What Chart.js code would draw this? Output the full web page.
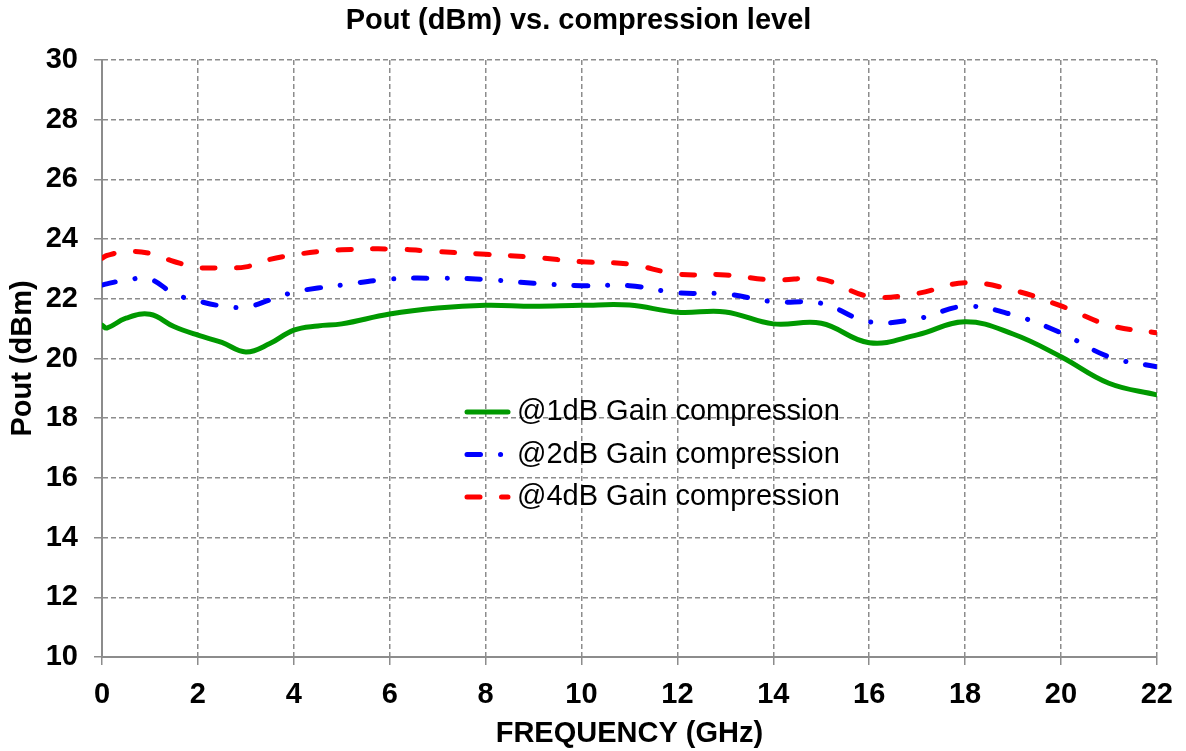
<!DOCTYPE html>
<html>
<head>
<meta charset="utf-8">
<script src="https://cdn.jsdelivr.net/npm/chart.js@4/dist/chart.umd.min.js"></script>
<style>
  html, body { margin: 0; padding: 0; background: #fff; }
  #wrap { width: 1186px; height: 751px; }
</style>
</head>
<body>
<div id="wrap"><canvas id="pout-chart" width="1186" height="751"></canvas></div>
<script>
const FREQ_GHZ = [0, 0.1, 0.5, 1, 1.5, 2, 2.5, 3, 3.5, 4, 4.5, 5, 6, 7, 8, 9, 10, 11, 12, 13, 14, 15, 16, 17, 18, 19, 20, 21, 22];
const POUT_1DB = [21.12, 21.02, 21.35, 21.48, 21.07, 20.78, 20.54, 20.22, 20.50, 20.95, 21.09, 21.16, 21.49, 21.69, 21.78, 21.75, 21.78, 21.79, 21.55, 21.56, 21.16, 21.18, 20.53, 20.79, 21.23, 20.82, 20.06, 19.17, 18.78];
const POUT_2DB = [22.46, 22.50, 22.63, 22.66, 22.17, 21.93, 21.76, 21.72, 21.96, 22.22, 22.36, 22.46, 22.66, 22.69, 22.65, 22.52, 22.44, 22.44, 22.20, 22.16, 21.90, 21.85, 21.23, 21.33, 21.75, 21.46, 20.86, 20.06, 19.72];
const POUT_4DB = [23.36, 23.45, 23.58, 23.52, 23.25, 23.05, 23.04, 23.07, 23.32, 23.47, 23.58, 23.64, 23.67, 23.58, 23.49, 23.39, 23.24, 23.16, 22.83, 22.80, 22.63, 22.66, 22.08, 22.18, 22.54, 22.29, 21.76, 21.12, 20.86];
const SERIES_LABELS = ['@1dB Gain compression', '@2dB Gain compression', '@4dB Gain compression'];

const FONT = "'Liberation Sans', Arial, Helvetica, sans-serif";
const GRID_GREY = '#8c8c8c';

function toPoints(xs, ys) {
    return xs.map((x, i) => ({ x: x, y: ys[i] }));
}

function initDataset(label, values, color, width, dash) {
    return {
        label: label,
        data: toPoints(FREQ_GHZ, values),
        borderColor: color,
        backgroundColor: color,
        borderWidth: width,
        borderDash: dash,
        borderCapStyle: 'round',
        borderJoinStyle: 'round',
        tension: 0.4,
        pointRadius: 0,
        fill: false
    };
}

// legend drawn inside the plot area, like the original
const insideLegend = {
    id: 'insideLegend',
    afterDatasetsDraw(chart) {
        const ctx = chart.ctx;
        const area = chart.chartArea;
        const x0 = area.left + 363;
        const y0 = area.top + 352;
        const rowGap = 42.5;
        chart.data.datasets.forEach((ds, i) => {
            const y = y0 + i * rowGap;
            ctx.save();
            ctx.strokeStyle = ds.borderColor;
            ctx.lineWidth = ds.borderWidth;
            ctx.lineCap = 'round';
            ctx.setLineDash(ds.borderDash || []);
            ctx.beginPath();
            ctx.moveTo(x0 + 2, y);
            ctx.lineTo(x0 + 43, y);
            ctx.stroke();
            ctx.restore();
            ctx.save();
            ctx.fillStyle = '#000';
            ctx.font = '29px ' + FONT;
            ctx.textBaseline = 'middle';
            ctx.textAlign = 'left';
            ctx.fillText(ds.label, x0 + 52, y);
            ctx.restore();
        });
    }
};

function axisTitle(text, padding) {
    return {
        display: true,
        text: text,
        color: '#000',
        font: { family: FONT, size: 29, weight: 'bold' },
        padding: padding
    };
}

function createPoutChart() {
    return new Chart(document.getElementById('pout-chart'), {
        type: 'line',
        data: {
            datasets: [
                initDataset(SERIES_LABELS[0], POUT_1DB, '#009900', 5, []),
                initDataset(SERIES_LABELS[1], POUT_2DB, '#0000ff', 5, [13.5, 20, 0.1, 20]),
                initDataset(SERIES_LABELS[2], POUT_4DB, '#ff0000', 5, [13, 21.5])
            ]
        },
        options: {
            responsive: false,
            animation: false,
            layout: { padding: { left: 0, right: 29, top: 0, bottom: 0 } },
            plugins: {
                legend: { display: false },
                tooltip: { enabled: false },
                title: {
                    display: true,
                    text: 'Pout (dBm) vs. compression level',
                    color: '#000',
                    font: { family: FONT, size: 29, weight: 'bold' },
                    padding: { top: 4, bottom: 21.2 }
                }
            },
            scales: {
                x: {
                    type: 'linear',
                    min: 0,
                    max: 22,
                    ticks: {
                        stepSize: 2,
                        color: '#000',
                        padding: 13,
                        font: { family: FONT, size: 29, weight: 'bold' }
                    },
                    grid: { color: GRID_GREY, lineWidth: 1.5, tickLength: 8, tickColor: GRID_GREY, tickWidth: 1.5 },
                    border: { display: true, color: GRID_GREY, width: 2, dash: [5, 3] },
                    title: axisTitle('FREQUENCY (GHz)', { top: 0, bottom: 0 }),
                    afterFit: (scale) => { scale.height = 94; }
                },
                y: {
                    min: 10,
                    max: 30,
                    ticks: {
                        stepSize: 2,
                        color: '#000',
                        padding: 16,
                        font: { family: FONT, size: 29, weight: 'bold' }
                    },
                    grid: { color: GRID_GREY, lineWidth: 1.5, tickLength: 8, tickColor: GRID_GREY, tickWidth: 1.5 },
                    border: { display: true, color: GRID_GREY, width: 2, dash: [5, 3] },
                    title: axisTitle('Pout (dBm)', { top: 6, bottom: 0 }),
                    afterFit: (scale) => { scale.width = 102; }
                }
            }
        },
        plugins: [insideLegend]
    });
}

createPoutChart();
</script>
</body>
</html>
